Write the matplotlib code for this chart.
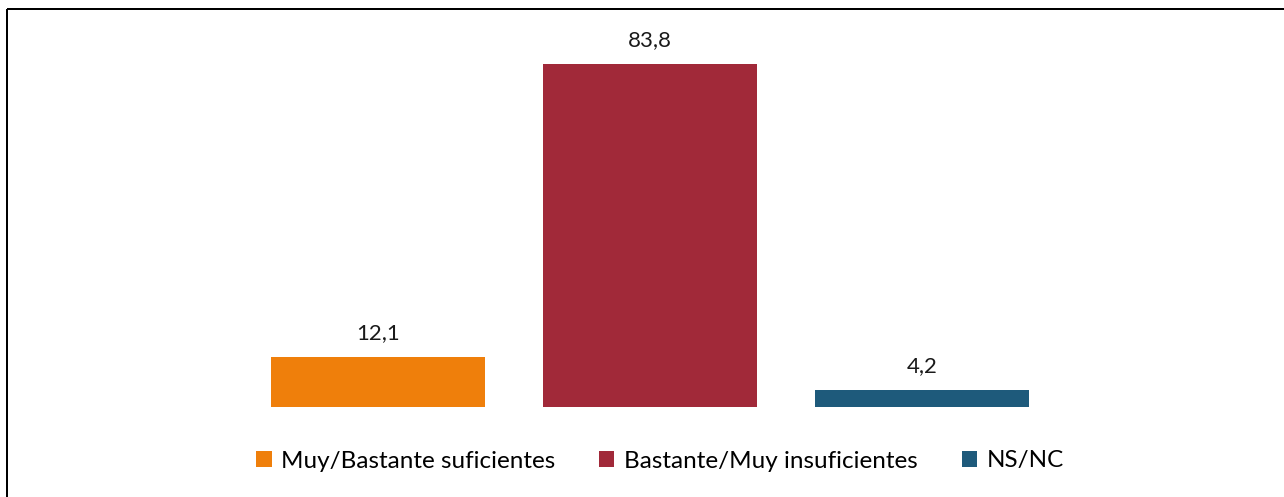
import matplotlib
matplotlib.use("Agg")
import matplotlib.pyplot as plt
from matplotlib.lines import Line2D
from matplotlib.patches import Patch

categories = ["Muy/Bastante suficientes", "Bastante/Muy insuficientes", "NS/NC"]
values = [12.1, 83.8, 4.2]
labels = ["12,1", "83,8", "4,2"]
colors = ["#EF7F0B", "#A12939", "#1E5A7B"]

plt.rcParams['font.family'] = ['Lato', 'DejaVu Sans']

W, H = 1284, 497
fig = plt.figure(figsize=(W / 100, H / 100), dpi=100)
ax_left, ax_width = 242, 816
ax_bottom = 90
ylim_top = 90
px_per_unit = 343 / 83.8
ax_height = ylim_top * px_per_unit
ax = fig.add_axes([ax_left / W, ax_bottom / H, ax_width / W, ax_height / H])

x = range(len(categories))
ax.bar(x, values, width=0.79, color=colors)
for xi, v, lab in zip(x, values, labels):
    ax.annotate(lab, (xi, v), xytext=(0, 10), textcoords="offset points",
                ha="center", va="bottom", fontsize=16, color="#1a1a1a")

ax.set_xlim(-0.5, 2.5)
ax.set_ylim(0, ylim_top)
ax.axis("off")

handles = [Patch(facecolor=c, edgecolor="none") for c in colors]
fig.legend(handles, categories, loc="center", bbox_to_anchor=(660 / W, 1 - 461 / H),
           ncol=3, frameon=False, fontsize=17.5, handlelength=0.62, handleheight=0.62,
           handletextpad=0.4, columnspacing=1.8)

lw = 2 * 72 / 100
fig.add_artist(Line2D([7 / W, 1], [1 - 9 / H, 1 - 9 / H], transform=fig.transFigure,
                      color="black", lw=lw, solid_capstyle="butt"))
fig.add_artist(Line2D([7 / W, 7 / W], [1 - 9 / H, 0], transform=fig.transFigure,
                      color="black", lw=lw, solid_capstyle="butt"))

fig.savefig("out.png", dpi=100)
